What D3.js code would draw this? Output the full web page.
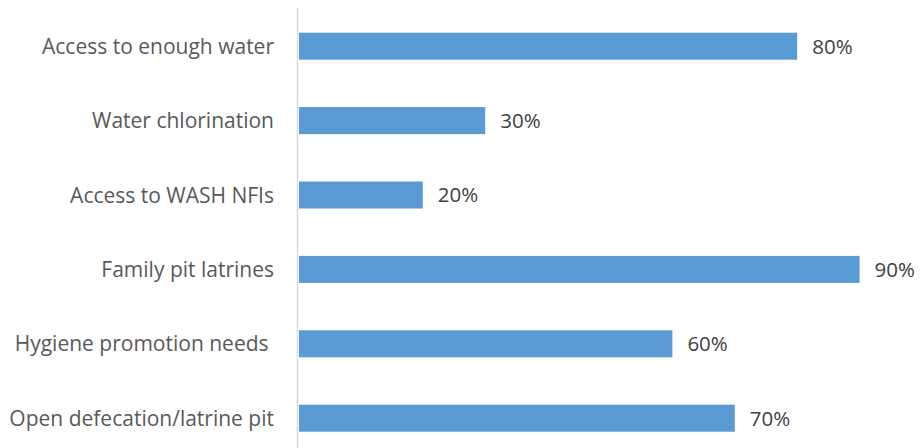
<!DOCTYPE html>
<html><head><meta charset="utf-8">
<script src="https://cdn.jsdelivr.net/npm/d3@7"></script>
<style>html,body{margin:0;padding:0;background:#fff;}svg{display:block;}</style>
</head><body>
<svg id="c" width="920" height="448"></svg>
<script>
const categories = ["Access to enough water","Water chlorination","Access to WASH NFIs","Family pit latrines","Hygiene promotion needs ","Open defecation/latrine pit"];
const values = [0.8,0.3,0.2,0.9,0.6,0.7];
const valueLabels = ["80%","30%","20%","90%","60%","70%"];

const svg = d3.select("#c");
const x = d3.scaleLinear().domain([0,1]).range([298,922]);
const y = d3.scaleBand().domain(categories).range([9,455.4]).paddingInner(0.637).paddingOuter(0.3185);
const font = "'Open Sans', sans-serif";

svg.selectAll("rect.bar").data(categories).join("rect")
  .attr("class","bar")
  .attr("x", x(0)+1)
  .attr("y", d=>y(d))
  .attr("width", (d,i)=>x(values[i])-x(0)-1)
  .attr("height", y.bandwidth())
  .attr("fill","#5B9BD5");

svg.append("line").attr("x1",297.5).attr("x2",297.5).attr("y1",8).attr("y2",448)
  .attr("stroke","#d9d9d9").attr("stroke-width",1.5);

svg.selectAll("text.cat").data(categories).join("text")
  .attr("class","cat")
  .attr("x",274).attr("y",d=>y(d)+y.bandwidth()/2)
  .attr("dy","0.36em").attr("text-anchor","end")
  .style("white-space","pre")
  .attr("font-family",font).attr("font-size",21).attr("fill","#595959")
  .text(d=>d);

svg.selectAll("text.val").data(categories).join("text")
  .attr("class","val")
  .attr("x",(d,i)=>x(values[i])+15).attr("y",d=>y(d)+y.bandwidth()/2)
  .attr("dy","0.36em")
  .attr("font-family",font).attr("font-size",20.5).attr("fill","#404040")
  .text((d,i)=>valueLabels[i]);
</script>
</body></html>
